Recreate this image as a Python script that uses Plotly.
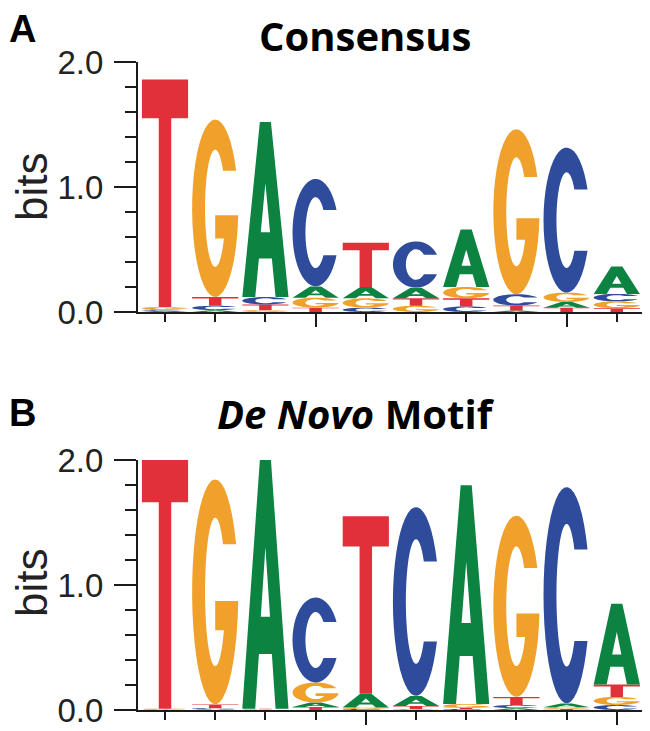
import math
import plotly.graph_objects as go

# ---------------- data (information content in bits, per position) ----------------
positions = [1, 2, 3, 4, 5, 6, 7, 8, 9, 10]

cons_A = [0.01, 0.015, 1.40, 0.09, 0.09, 0.085, 0.46, 0.012, 0.045, 0.22]
cons_C = [0.01, 0.035, 0.06, 0.86, 0.035, 0.37, 0.045, 0.09, 1.16, 0.06]
cons_G = [0.02, 1.42, 0.015, 0.08, 0.075, 0.05, 0.09, 1.32, 0.075, 0.055]
cons_T = [1.82, 0.07, 0.045, 0.035, 0.355, 0.06, 0.065, 0.04, 0.035, 0.03]

novo_A = [0.003, 0.005, 1.99, 0.035, 0.11, 0.08, 1.75, 0.015, 0.03, 0.645]
novo_C = [0.003, 0.01, 0.003, 0.68, 0.008, 1.51, 0.008, 0.025, 1.73, 0.04]
novo_G = [0.004, 1.80, 0.003, 0.16, 0.012, 0.008, 0.03, 1.45, 0.015, 0.065]
novo_T = [1.99, 0.03, 0.004, 0.025, 1.42, 0.025, 0.01, 0.065, 0.008, 0.10]

y_tick_vals = [0, 1, 2]
panel_titles = ["<b>Consensus</b>", "<b><i>De Novo</i> Motif</b>"]
panel_labels = ["<b>A</b>", "<b>B</b>"]

COLORS = {"A": "#0C8341", "C": "#2E4B9C", "G": "#F0A12C", "T": "#E1303A"}

# ---------------- glyph outlines in a unit box ----------------
def arc(cx, cy, rx, ry, a0, a1, n=40):
    pts = []
    for i in range(n + 1):
        a = math.radians(a0 + (a1 - a0) * i / n)
        pts.append((cx + rx * math.cos(a), cy + ry * math.sin(a)))
    return pts

RXO, RYO, RXI, RYI = 0.5, 0.5, 0.22, 0.33
TERM = 25.0
_yc = 0.5 + RYO * math.sin(math.radians(TERM))
TERM_IN = math.degrees(math.asin((_yc - 0.5) / RYI))

def glyph_C():
    outer = arc(0.5, 0.5, RXO, RYO, TERM, 360 - TERM)
    inner = arc(0.5, 0.5, RXI, RYI, 360 - TERM_IN, TERM_IN)
    return [outer + inner]

def glyph_G():
    bar_top, bar_bot, bar_left = 0.46, 0.33, 0.50
    a_end = 360 + math.degrees(math.asin((bar_top - 0.5) / RYO))
    outer = arc(0.5, 0.5, RXO, RYO, TERM, a_end)
    b_start = 360 + math.degrees(math.asin((bar_bot - 0.5) / RYI))
    inner_start_u = 0.5 + RXI * math.cos(math.radians(b_start))
    bar = [(bar_left, bar_top), (bar_left, bar_bot), (inner_start_u, bar_bot)]
    inner = arc(0.5, 0.5, RXI, RYI, b_start, TERM_IN, 60)
    return [outer + bar + inner]

def glyph_A():
    outer = [(0, 0), (0.38, 1), (0.62, 1), (1, 0), (0.72, 0), (0.64, 0.22),
             (0.36, 0.22), (0.28, 0)]
    hole = [(0.40, 0.37), (0.60, 0.37), (0.5, 0.65)]
    return [outer, hole]

def glyph_T():
    return [[(0, 1), (1, 1), (1, 0.83), (0.635, 0.83), (0.635, 0),
             (0.365, 0), (0.365, 0.83), (0, 0.83)]]

GLYPHS = {"A": glyph_A(), "C": glyph_C(), "G": glyph_G(), "T": glyph_T()}
LETTER_W = 0.92

def letter_path(letter, xc, y0, h):
    parts = []
    for poly in GLYPHS[letter]:
        coords = [(xc - LETTER_W / 2 + LETTER_W * u, y0 + h * v) for u, v in poly]
        s = "M " + " L ".join(f"{x:.5f},{y:.5f}" for x, y in coords) + " Z"
        parts.append(s)
    return " ".join(parts)

# ---------------- figure ----------------
# The page body has an 8px margin, so the figure is sized to fit the window exactly
OFF = 8
W, H = 650 - OFF, 731 - OFF

def fx(p):  # page pixel -> paper x
    return (p - OFF) / W

def fy(p):  # page pixel -> paper y
    return 1 - (p - OFF) / H

fig = go.Figure()
shapes = []

panels = [
    ({"A": cons_A, "C": cons_C, "G": cons_G, "T": cons_T}, "x", "y", 62, 312, 4),
    ({"A": novo_A, "C": novo_C, "G": novo_G, "T": novo_T}, "x2", "y2", 460, 710, 5),
]

x_left_px, x_right_px = 138, 645
px_per_unit = 50.2
x_lo = 1 - (165 - x_left_px) / px_per_unit
x_hi = x_lo + (x_right_px - x_left_px) / px_per_unit
layout_axes = {}
for k, (data, xr, yr, ytop_px, ybot_px, major0) in enumerate(panels):
    for i, p in enumerate(positions):
        stack = sorted(((data[L][i], L) for L in "ACGT"), key=lambda t: t[0])
        base = 0.0
        for h, L in stack:
            shapes.append(dict(type="path", xref=xr, yref=yr,
                               path=letter_path(L, p, base, h),
                               fillcolor=COLORS[L], line=dict(width=0),
                               fillrule="evenodd", layer="above"))
            base += h
    fig.add_trace(go.Scatter(x=positions, y=[0] * len(positions), xaxis=xr, yaxis=yr,
                             mode="markers", marker=dict(opacity=0), hoverinfo="skip",
                             showlegend=False))
    sfx = "" if k == 0 else "2"
    layout_axes["xaxis" + sfx] = dict(
        domain=[fx(x_left_px), fx(x_right_px)], range=[x_lo, x_hi],
        anchor="y" + sfx, automargin=False, showgrid=False, zeroline=False, showline=True,
        linewidth=2, linecolor="#1a1a1a", ticks="outside", tickmode="linear",
        tick0=major0, dtick=5, ticklen=13, tickwidth=2, tickcolor="#1a1a1a",
        showticklabels=False,
        minor=dict(ticks="outside", dtick=1, ticklen=8, tickwidth=2,
                   tickcolor="#1a1a1a", showgrid=False),
        fixedrange=True)
    layout_axes["yaxis" + sfx] = dict(
        domain=[fy(ybot_px), fy(ytop_px)], range=[0, 2],
        anchor="x" + sfx, automargin=False, showgrid=False, zeroline=False, showline=True,
        linewidth=2, linecolor="#1a1a1a", ticks="outside", tickmode="array",
        tickvals=y_tick_vals, ticktext=[f"{v:.1f}" for v in y_tick_vals],
        ticklen=22, tickwidth=2, tickcolor="#1a1a1a", ticklabelstandoff=4,
        tickfont=dict(family="Liberation Sans, Arial, sans-serif", size=33, color="#222"),
        minor=dict(ticks="outside", tickvals=[0.2 * j for j in range(11)], ticklen=11,
                   tickwidth=2, tickcolor="#1a1a1a", showgrid=False),
        fixedrange=True)

annotations = []
title_y = [36, 413]
label_y = [29, 413]
bits_y = [187, 583]
title_x = [365, 356]
for k in range(2):
    annotations.append(dict(text=panel_titles[k], x=fx(title_x[k]), y=fy(title_y[k]),
                            xref="paper", yref="paper", showarrow=False,
                            xanchor="center", yanchor="middle",
                            font=dict(family="Open Sans, sans-serif", size=40, color="#000")))
    annotations.append(dict(text=panel_labels[k], x=0, y=fy(label_y[k]),
                            xref="paper", yref="paper", showarrow=False,
                            xanchor="left", yanchor="middle", borderpad=0,
                            font=dict(family="Liberation Sans, Arial, sans-serif", size=38, color="#000")))
    annotations.append(dict(text="bits", x=fx(31), y=fy(bits_y[k]),
                            xref="paper", yref="paper", showarrow=False, textangle=-90,
                            xanchor="center", yanchor="middle",
                            font=dict(family="Liberation Sans, Arial, sans-serif", size=44, color="#222")))

fig.update_layout(width=W, height=H, margin=dict(l=0, r=0, t=0, b=0, autoexpand=False),
                  paper_bgcolor="white", plot_bgcolor="white",
                  shapes=shapes, annotations=annotations, showlegend=False,
                  **layout_axes)

fig.write_html("out.html")
